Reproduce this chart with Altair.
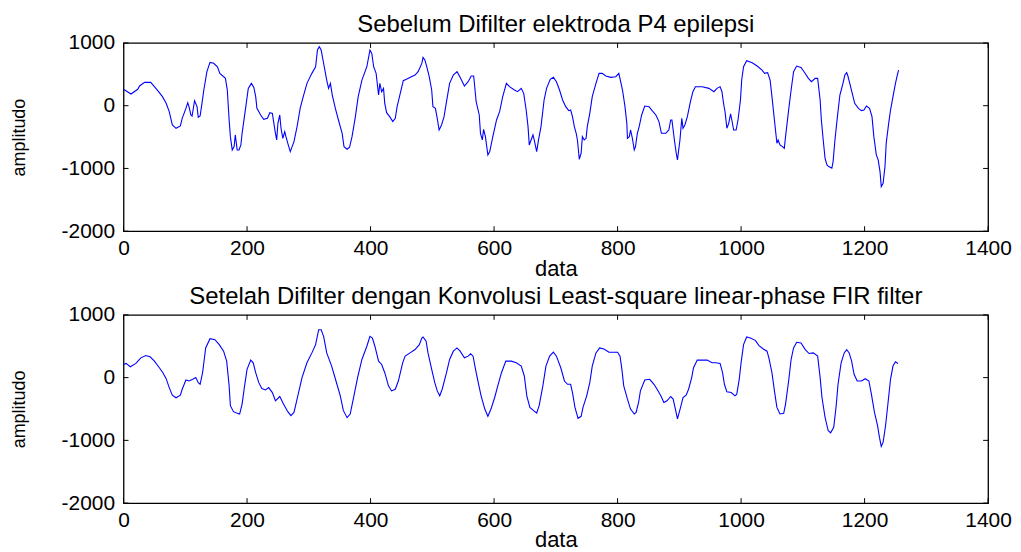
import altair as alt
import pandas as pd

# ---- data ----
top_x = [0, 12, 23, 26, 34, 44, 50, 58, 63, 69, 74, 79, 85, 92, 95, 101, 104, 106, 109, 111,
         115, 119, 121, 124, 127, 130, 135, 140, 146, 152, 156, 165, 168, 171, 173, 176, 179, 181, 184, 187,
         190, 192, 198, 202, 207, 211, 214, 216, 222, 227, 233, 237, 241, 243, 246, 248, 250, 253, 255, 258,
         261, 263, 266, 270, 273, 276, 281, 286, 291, 297, 305, 311, 314, 317, 320, 323, 327, 329, 332, 335,
         338, 343, 348, 354, 357, 362, 366, 370, 375, 380, 386, 394, 399, 402, 405, 409, 413, 415, 418, 421,
         423, 426, 431, 436, 440, 443,
         453, 458, 466, 472, 477, 483, 485, 488, 491, 495, 499, 501, 505, 508, 511, 515, 519, 523, 528, 534,
         540, 545, 552, 558, 563, 567, 571, 576, 578, 581, 583, 586, 590, 593, 598, 604, 609, 614, 620, 625,
         633, 638, 644, 648, 652, 655, 657, 660, 663, 665, 669, 672, 676, 681, 685, 691, 696, 701, 706, 711,
         716, 721, 724, 727, 730, 733, 735, 738, 741, 743, 746, 749, 751, 755, 759, 765, 770, 775, 781, 789,
         797, 802, 805, 808, 812, 815, 816, 819, 821, 824, 827, 829, 832, 835, 839, 844, 851, 856, 862, 867,
         871, 878, 883, 886, 888, 892, 895, 897,
         901, 904, 906, 909, 913, 918, 922, 926, 937, 948, 956, 961, 966, 969, 972, 974, 977, 980, 983, 985,
         988, 992, 995, 999, 1001, 1004, 1009, 1018, 1026, 1034, 1038, 1043, 1047, 1050, 1054, 1058, 1060, 1063, 1067, 1070,
         1072, 1077, 1081, 1085, 1090, 1097, 1102, 1109, 1114, 1120, 1124, 1128, 1130, 1133, 1136, 1139, 1142, 1147, 1149, 1152,
         1156, 1160, 1165, 1168, 1171, 1173, 1176, 1180, 1184, 1190, 1195, 1199, 1203, 1208, 1212, 1215, 1219, 1222, 1225, 1227,
         1230, 1233, 1235, 1239, 1242, 1246, 1250, 1253, 1255]
top_y = [261, 186, 261, 314, 372, 372, 303, 207, 144, 38, -95, -307, -360, -323, -201, -42, 48, -15, -148, -164,
         80, -15, -185, -164, 38, 250, 542, 690, 675, 621, 515, 436, 250, -228, -493, -705, -652, -466, -705, -705,
         -626, -440, -15, 276, 356, 292, 144, -42, -148, -217, -201, -111, -122, -254, -440, -546, -281, -148, -360, -520,
         -413, -493, -599, -732, -652, -572, -334, -42, 144, 356, 515, 621, 887, 940, 887, 728, 515, 409, 276, 356,
         170, -42, -228, -440, -652, -694, -663, -493, -201, 144, 409, 621, 887, 834, 621, 515, 170, 356, 223, 276,
         38, -111, -175, -254, -201, -15,
         398, 420, 462, 489, 542, 674, 770, 728, 621, 462, 250, -15, -42, -201, -387, -307, -175, 64, 356, 489,
         542, 452, 314, 382, 473, 473, 64, -148, -440, -546, -376, -493, -785, -732, -493, -228, -95, 144, 356, 303,
         250, 223, 276, 197, -69, -334, -626, -546, -466, -546, -732, -546, -334, 91, 276, 420, 452, 382, 250, 91,
         -15, -79, -69, -175, -334, -440, -546, -854, -758, -493, -546, -520, -334, -122, 144, 356, 515, 515, 473, 452,
         462, 515, 382, 250, -15, -281, -520, -493, -387, -520, -705, -652, -440, -334, -148, -5, -15, -79, -148, -254,
         -440, -440, -387, -228, -228, -546, -758, -864,
         -546, -201, -360, -307, -175, 64, 223, 303, 303, 276, 223, 276, 303, 223, 11, -95, -360, -281, -132, -228,
         -387, -387, -228, 91, 409, 621, 717, 685, 632, 568, 515, 526, 409, 144, -228, -599, -546, -626, -652, -679,
         -493, -69, 250, 542, 632, 611, 542, 436, 382, 436, 436, 91, -228, -546, -838, -944, -970, -997, -891, -546,
         -175, 170, 356, 489, 526, 473, 356, 197, 38, -42, -79, -69, -5, -42, -175, -493, -785, -864, -1050, -1289,
         -1236, -970, -599, -281, -69, 144, 356, 489, 568]

bot_x = [0, 4, 11, 20, 28, 36, 43, 50, 58, 63, 69, 74, 79, 85, 92, 95, 101, 106, 112, 117,
         121, 124, 128, 133, 140, 148, 155, 162, 167, 171, 173, 178, 183, 188, 192, 196, 200, 206, 210, 214,
         219, 224, 230, 235, 241, 246, 253, 259, 266, 271, 276, 281, 289, 297, 305, 311, 316, 320, 324, 329,
         337, 344, 351, 356, 362, 367, 372, 379, 386, 394, 399, 403, 407, 413, 418, 423, 429, 434, 440, 445,
         452, 456, 464, 472, 479, 483, 485, 490, 493, 499, 504, 508, 512, 516, 523, 528, 534, 540, 545, 552,
         558, 562, 566, 570, 575, 579, 585, 590, 595, 601, 606, 612, 619, 628, 636, 644, 649, 653, 658, 664,
         669, 673, 679, 684, 690, 696, 701, 708, 714, 719, 724, 727, 731, 736, 741, 744, 750, 755, 759, 765,
         771, 778, 786, 794, 800, 804, 807, 810, 816, 821, 827, 830, 834, 837, 844, 852, 859, 864, 870, 875,
         880, 886, 890, 893, 897,
         902, 906, 911, 915, 920, 923, 929, 937, 945, 953, 959, 966, 970, 973, 977, 984, 990, 993, 997, 1000,
         1004, 1009, 1015, 1023, 1029, 1036, 1042, 1045, 1050, 1054, 1058, 1063, 1069, 1072, 1077, 1081, 1085, 1090, 1097, 1104,
         1110, 1117, 1124, 1128, 1131, 1136, 1141, 1145, 1150, 1154, 1157, 1162, 1167, 1171, 1175, 1179, 1183, 1188, 1195, 1201,
         1207, 1211, 1216, 1221, 1224, 1227, 1230, 1234, 1238, 1242, 1246, 1250, 1254]
bot_y = [210, 226, 173, 226, 315, 352, 331, 263, 157, 89, -17, -159, -280, -322, -280, -185, -38, -54, -27, 0,
         -80, -106, 78, 473, 621, 605, 526, 421, 263, -132, -448, -543, -564, -580, -422, -132, 131, 279, 236, 78,
         -80, -175, -196, -159, -238, -369, -301, -422, -543, -606, -554, -343, 0, 236, 394, 526, 763, 763, 658, 394,
         184, -54, -290, -527, -638, -580, -343, 0, 289, 500, 658, 631, 500, 263, 210, 78, -132, -212, -185, -54,
         236, 342, 394, 447, 526, 631, 647, 579, 394, 131, -80, -212, -290, -185, 78, 289, 421, 473, 421, 315,
         342, 379, 342, 131, -106, -290, -501, -617, -501, -317, -132, 78, 263, 263, 236, 184, 26, -290, -475, -527,
         -564, -448, -132, 184, 342, 405, 342, 157, -54, -106, -106, -238, -475, -648, -617, -475, -290, -80, 184, 394,
         473, 457, 405, 405, 405, 342, 131, -132, -343, -501, -580, -554, -396, -212, -38, -27, -106, -185, -290, -396,
         -369, -301, -343, -475, -659,
         -475, -317, -280, -185, 0, 157, 279, 279, 279, 236, 236, 226, 78, -106, -227, -238, -290, -264, -27, 236,
         526, 647, 631, 594, 510, 457, 421, 315, 78, -212, -475, -580, -570, -422, -54, 289, 473, 563, 552, 447,
         384, 394, 342, 0, -317, -633, -843, -880, -791, -448, -106, 236, 394, 447, 394, 263, 53, -54, -54, -17,
         -54, -264, -554, -764, -949, -1096, -1028, -764, -396, -27, 184, 252, 226]

x_ticks = [0, 200, 400, 600, 800, 1000, 1200, 1400]
y_ticks = [-2000, -1000, 0, 1000]

title_top = "Sebelum Difilter elektroda P4 epilepsi"
title_bot = "Setelah Difilter dengan Konvolusi Least-square linear-phase FIR filter"
x_title = "data"
y_title = "amplitudo"

FONT = "Liberation Sans"
W, H = 868, 189

xscale = alt.Scale(domain=[0, 1400], nice=False, zero=False)
yscale = alt.Scale(domain=[-2000, 1000], nice=False, zero=False)

xaxis = alt.Axis(values=x_ticks, labelExpr="'' + datum.value", ticks=False, tickSize=0, domain=False, grid=False,
                 labelFont=FONT, labelFontSize=21, labelColor="black", labelPadding=6,
                 labelFlush=False, labelOverlap=False,
                 title=x_title, titleFont=FONT, titleFontSize=22, titleFontWeight="normal",
                 titleColor="black", titleBaseline="top", titleY=27)
yaxis = alt.Axis(values=y_ticks, labelExpr="'' + datum.value", ticks=False, tickSize=0, domain=False, grid=False,
                 labelFont=FONT, labelFontSize=21, labelColor="black", labelPadding=9,
                 labelFlush=False, labelOverlap=False,
                 title=y_title, titleFont=FONT, titleFontSize=18, titleFontWeight="normal",
                 titleColor="black", titleX=-95)

xt_df = pd.DataFrame({"x": x_ticks})
yt_df = pd.DataFrame({"y": y_ticks})


def panel(xs, ys, title):
    df = pd.DataFrame({"x": xs, "y": ys})
    line = alt.Chart(df).mark_line(color="#0000ff", strokeWidth=1.1, interpolate="linear").encode(
        x=alt.X("x:Q", scale=xscale, axis=xaxis),
        y=alt.Y("y:Q", scale=yscale, axis=yaxis),
        order="x:Q",
    )
    tx_bottom = alt.Chart(xt_df).mark_rule(color="black", strokeWidth=1).encode(
        x=alt.X("x:Q", scale=xscale, axis=xaxis), y=alt.value(H), y2=alt.value(H - 5))
    tx_top = alt.Chart(xt_df).mark_rule(color="black", strokeWidth=1).encode(
        x=alt.X("x:Q", scale=xscale, axis=xaxis), y=alt.value(0), y2=alt.value(5))
    ty_left = alt.Chart(yt_df).mark_rule(color="black", strokeWidth=1).encode(
        y=alt.Y("y:Q", scale=yscale, axis=yaxis), x=alt.value(0), x2=alt.value(5))
    ty_right = alt.Chart(yt_df).mark_rule(color="black", strokeWidth=1).encode(
        y=alt.Y("y:Q", scale=yscale, axis=yaxis), x=alt.value(W), x2=alt.value(W - 5))
    return alt.layer(line, tx_bottom, tx_top, ty_left, ty_right).properties(
        width=W, height=H,
        title=alt.TitleParams(title, font=FONT, fontSize=24, fontWeight="normal",
                              color="black", offset=-5, anchor="middle"),
    )


chart = alt.vconcat(
    panel(top_x, top_y, title_top),
    panel(bot_x, bot_y, title_bot),
    spacing=4,
).properties(
    padding={"left": 2, "top": 3, "right": 0, "bottom": 0},
    background="white",
).configure_view(stroke="black", strokeWidth=1.3)

chart.save("out.html", embed_options={"renderer": "svg", "actions": False})
